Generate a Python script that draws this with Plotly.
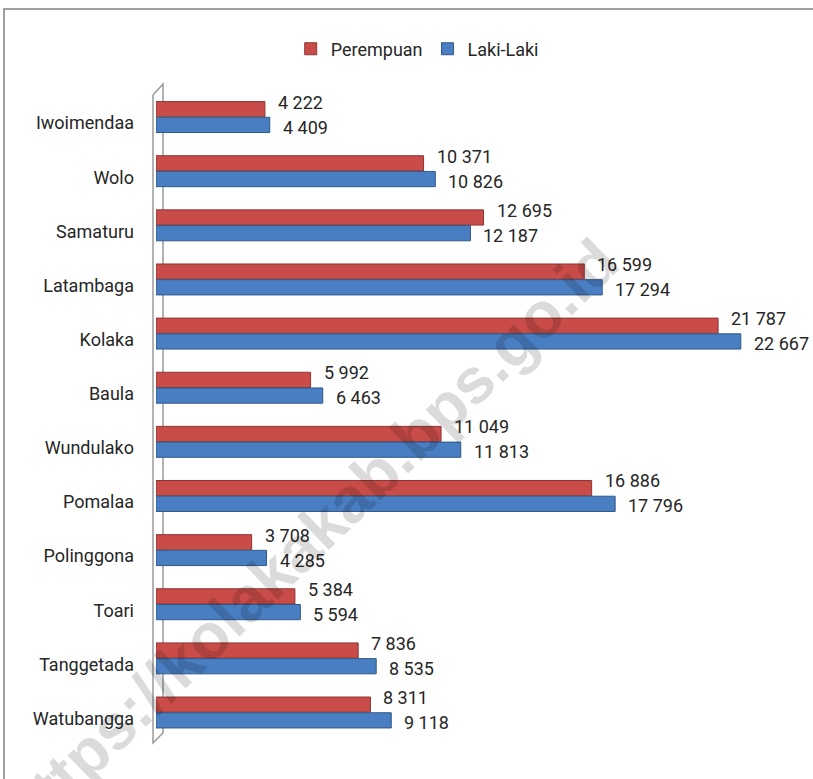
import plotly.graph_objects as go

categories = ["Iwoimendaa", "Wolo", "Samaturu", "Latambaga", "Kolaka", "Baula",
              "Wundulako", "Pomalaa", "Polinggona", "Toari", "Tanggetada", "Watubangga"]
perempuan = [4222, 10371, 12695, 16599, 21787, 5992, 11049, 16886, 3708, 5384, 7836, 8311]
laki_laki = [4409, 10826, 12187, 17294, 22667, 6463, 11813, 17796, 4285, 5594, 8535, 9118]
series_names = ["Perempuan", "Laki-Laki"]
watermark = "https://kolakakab.bps.go.id"

FONT = 'Roboto, "DejaVu Sans Condensed", sans-serif'
FS = 18
TXT = "#262626"
RED = "#C94C49"
BLUE = "#4A7EC3"


def fmt(v):
    return f"{v:,}".replace(",", " ")


fig = go.Figure()
fig.add_trace(go.Bar(y=categories, x=perempuan, name=series_names[0], orientation="h",
                     marker=dict(color=RED, line=dict(color="#8E3532", width=1))))
fig.add_trace(go.Bar(y=categories, x=laki_laki, name=series_names[1], orientation="h",
                     marker=dict(color=BLUE, line=dict(color="#2E5987", width=1))))

annotations = []
for cat, v in zip(categories, perempuan):
    annotations.append(dict(x=v, y=cat, xref="x", yref="y", text=fmt(v), showarrow=False,
                            xanchor="left", yanchor="middle", xshift=11, yshift=15,
                            font=dict(family=FONT, size=FS, color=TXT)))
for cat, v in zip(categories, laki_laki):
    annotations.append(dict(x=v, y=cat, xref="x", yref="y", text=fmt(v), showarrow=False,
                            xanchor="left", yanchor="middle", xshift=11, yshift=-10,
                            font=dict(family=FONT, size=FS, color=TXT)))
annotations.append(dict(x=0.240, y=0.312, xref="paper", yref="paper", text="<b>" + watermark + "</b>",
                        showarrow=False, textangle=-44, xanchor="center", yanchor="middle",
                        font=dict(family='"Liberation Sans", Arial, sans-serif', size=64,
                                  color="rgba(0,0,0,0.14)")))

wall = dict(color="#9a9a9a", width=1.5)
shapes = [
    # outer chart border
    dict(type="rect", xref="paper", yref="paper", x0=-0.2357, x1=1.2, y0=-0.3, y1=1.1246,
         line=dict(color="#a0a0a0", width=2), layer="below"),
    # 3D wall outline
    dict(type="path", xref="paper", yref="paper",
         path="M -0.00465 -0.0046 L -0.00465 0.9923 L 0.01085 1.0092 L 0.01085 0.0108 Z",
         line=wall, layer="below"),
]

fig.update_layout(
    width=813, height=779,
    margin=dict(l=156, r=12, t=90, b=39, autoexpand=False),
    paper_bgcolor="white", plot_bgcolor="white",
    barmode="group", bargap=0.42, bargroupgap=0.03,
    font=dict(family=FONT, size=FS, color=TXT),
    legend=dict(orientation="h", x=0.405, y=1.063, xanchor="center", yanchor="middle",
                font=dict(family=FONT, size=FS, color=TXT), itemwidth=30,
                traceorder="normal"),
    xaxis=dict(range=[0, 25000], showgrid=False, zeroline=False, showticklabels=False,
               showline=False, ticks="", automargin=False),
    yaxis=dict(autorange="reversed", showgrid=False, zeroline=False, showline=False,
               ticks="", ticklabelstandoff=21, ticklabelshift=-6, automargin=False,
               tickfont=dict(family=FONT, size=FS, color=TXT)),
    annotations=annotations,
    shapes=shapes,
    showlegend=True,
)

fig.write_html("out.html", config={"displayModeBar": False},
               post_script="document.body.style.margin='0';")
